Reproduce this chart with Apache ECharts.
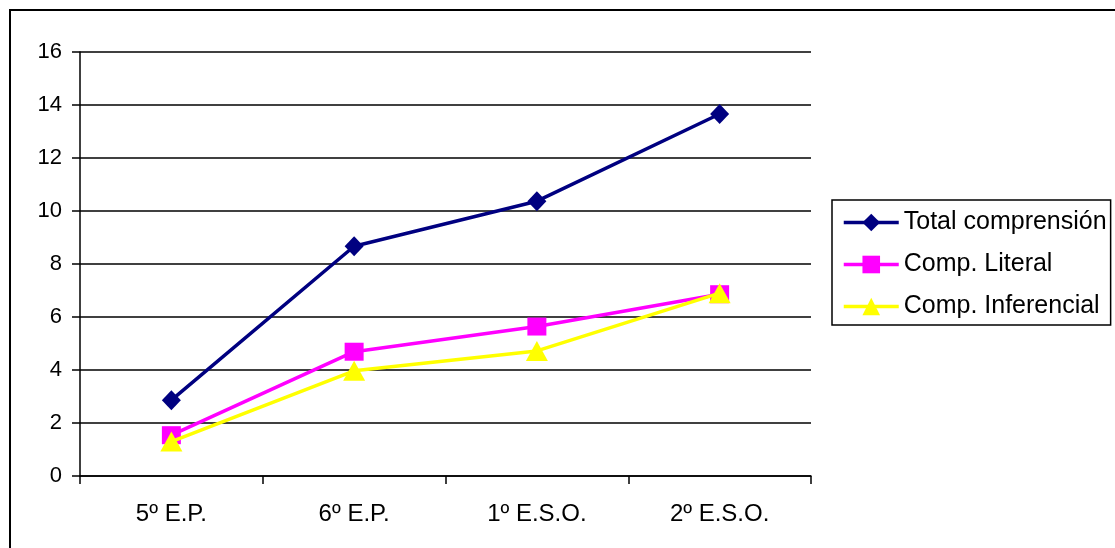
<!DOCTYPE html>
<html>
<head>
<meta charset="utf-8">
<script src="https://cdn.jsdelivr.net/npm/echarts@6/dist/echarts.min.js"></script>
<style>
html,body{margin:0;padding:0;background:#fff;}
#chart{width:1115px;height:548px;}
</style>
</head>
<body>
<div id="chart"></div>
<script>
const categories = ['5º E.P.', '6º E.P.', '1º E.S.O.', '2º E.S.O.'];
const totalComprension = [2.86, 8.67, 10.37, 13.66];
const compLiteral = [1.54, 4.69, 5.64, 6.86];
const compInferencial = [1.3, 3.97, 4.72, 6.9];
const yTicks = [0, 2, 4, 6, 8, 10, 12, 14, 16];

const FONT = '"Liberation Sans", Arial, sans-serif';
const chart = echarts.init(document.getElementById('chart'));
chart.setOption({
  backgroundColor: '#fff',
  animation: false,
  graphic: [{
    type: 'rect',
    shape: { x: 10, y: 10, width: 1120, height: 560 },
    style: { fill: 'none', stroke: '#000', lineWidth: 2 },
    silent: true
  }],
  grid: { left: 80, right: 304, top: 52, bottom: 72 },
  legend: {
    orient: 'vertical',
    left: 832,
    top: 200,
    padding: [10, 4, 6, 10],
    borderColor: '#000',
    borderWidth: 1.5,
    itemWidth: 55,
    itemHeight: 22,
    itemGap: 17,
    lineStyle: { width: 3.5 },
    textStyle: { fontFamily: FONT, fontSize: 25, color: '#000', lineHeight: 24 },
    data: ['Total comprensión', 'Comp. Literal', 'Comp. Inferencial']
  },
  xAxis: {
    type: 'category',
    data: categories,
    boundaryGap: true,
    axisLine: { lineStyle: { color: '#000', width: 1.5 } },
    axisTick: { show: true, length: 8, lineStyle: { color: '#000', width: 1.5 } },
    axisLabel: { fontFamily: FONT, fontSize: 24, color: '#000', margin: 26 }
  },
  yAxis: {
    type: 'value',
    min: yTicks[0],
    max: yTicks[yTicks.length - 1],
    interval: 2,
    axisLine: { show: true, lineStyle: { color: '#000', width: 1.5 } },
    axisTick: { show: true, length: 8, lineStyle: { color: '#000', width: 1.5 } },
    axisLabel: { fontFamily: FONT, fontSize: 22, color: '#000', margin: 18 },
    splitLine: { show: true, lineStyle: { color: '#000', width: 1.5 } }
  },
  series: [
    {
      name: 'Total comprensión',
      type: 'line',
      data: totalComprension,
      symbol: 'diamond',
      symbolSize: [19, 20],
      color: '#000080',
      lineStyle: { color: '#000080', width: 3.5 },
      itemStyle: { color: '#000080' },
      z: 3
    },
    {
      name: 'Comp. Literal',
      type: 'line',
      data: compLiteral,
      symbol: 'rect',
      symbolSize: [19, 18],
      color: '#ff00ff',
      lineStyle: { color: '#ff00ff', width: 3.5 },
      itemStyle: { color: '#ff00ff' },
      z: 4
    },
    {
      name: 'Comp. Inferencial',
      type: 'line',
      data: compInferencial,
      symbol: 'triangle',
      symbolSize: [22, 20],
      color: '#ffff00',
      lineStyle: { color: '#ffff00', width: 3.5 },
      itemStyle: { color: '#ffff00' },
      z: 5
    }
  ]
});
</script>
</body>
</html>
